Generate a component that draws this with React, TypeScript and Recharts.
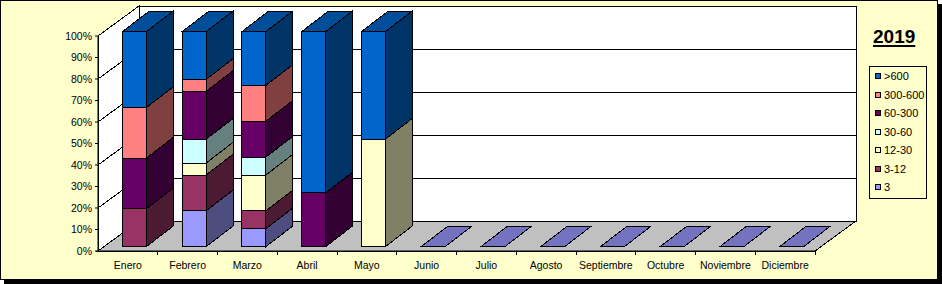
import { BarChart, Bar, XAxis, YAxis, CartesianGrid, Legend } from "recharts";

const months = [
  "Enero", "Febrero", "Marzo", "Abril", "Mayo", "Junio",
  "Julio", "Agosto", "Septiembre", "Octubre", "Noviembre", "Diciembre",
];

// counts per month, stacked bottom -> top
const s3 = [0, 3, 1, 0, 0, 0, 0, 0, 0, 0, 0, 0];
const s3to12 = [3, 3, 1, 0, 0, 0, 0, 0, 0, 0, 0, 0];
const s12to30 = [0, 1, 2, 0, 1, 0, 0, 0, 0, 0, 0, 0];
const s30to60 = [0, 2, 1, 0, 0, 0, 0, 0, 0, 0, 0, 0];
const s60to300 = [4, 4, 2, 1, 0, 0, 0, 0, 0, 0, 0, 0];
const s300to600 = [4, 1, 2, 0, 0, 0, 0, 0, 0, 0, 0, 0];
const s600 = [6, 4, 3, 3, 1, 0, 0, 0, 0, 0, 0, 0];

const keys = ["3", "3-12", "12-30", "30-60", "60-300", "300-600", ">600"];
const values = [s3, s3to12, s12to30, s30to60, s60to300, s300to600, s600];
const colors = ["#9999FF", "#993366", "#FFFFCC", "#CCFFFF", "#660066", "#FF8080", "#0066CC"];

const yTicks = [0, 0.1, 0.2, 0.3, 0.4, 0.5, 0.6, 0.7, 0.8, 0.9, 1];

const data = months.map((mes, i) => {
  const row: any = { mes };
  keys.forEach((k, j) => (row[k] = values[j][i]));
  return row;
});

// layout
const W = 942;
const H = 284;
const PLOT_X = 98;
const PLOT_Y = 36;
const PLOT_W = 717;
const PLOT_H = 215;
const WALL_DX = 41;
const WALL_DY = -30;
const OX = 6.3;
const OY = -4.3;
const DX = 27;
const DY = -20.7;
const FONT = "'Liberation Sans', Arial, sans-serif";

function shade(hex: string, k: number) {
  const n = parseInt(hex.slice(1), 16);
  const r = Math.round(((n >> 16) & 255) * k);
  const g = Math.round(((n >> 8) & 255) * k);
  const b = Math.round((n & 255) * k);
  return `rgb(${r},${g},${b})`;
}

const pts = (arr: number[][]) => arr.map((p) => p.join(",")).join(" ");

const makeShape = (idx: number) => (p: any) => {
  const { x, y, width, height, payload } = p;
  const color = colors[idx];
  const total = keys.reduce((s, k) => s + (payload[k] || 0), 0);
  const fx = x + OX;
  const fy = y + OY;
  const w = width;
  if (!(height > 0)) {
    // empty month: Excel still draws the flat lid of the first series
    if (total === 0 && idx === 0) {
      return (
        <polygon
          points={pts([[fx, fy], [fx + DX, fy + DY], [fx + w + DX, fy + DY], [fx + w, fy]])}
          fill={shade(color, 0.75)}
          stroke="#000"
          shapeRendering="crispEdges"
        />
      );
    }
    return <g />;
  }
  const isTop = !keys.slice(idx + 1).some((k) => payload[k] > 0);
  const h = height;
  return (
    <g shapeRendering="crispEdges" stroke="#000" strokeWidth={1}>
      <rect x={fx} y={fy} width={w} height={h} fill={color} />
      <polygon
        points={pts([[fx + w, fy], [fx + w + DX, fy + DY], [fx + w + DX, fy + h + DY], [fx + w, fy + h]])}
        fill={shade(color, 0.5)}
      />
      {isTop && (
        <polygon
          points={pts([[fx, fy], [fx + DX, fy + DY], [fx + w + DX, fy + DY], [fx + w, fy]])}
          fill={shade(color, 0.75)}
        />
      )}
    </g>
  );
};

const shapes = keys.map((_, i) => makeShape(i));

function Walls() {
  const x0 = PLOT_X;
  const y0 = PLOT_Y;
  const x1 = PLOT_X + PLOT_W;
  const y1 = PLOT_Y + PLOT_H;
  return (
    <g shapeRendering="crispEdges" stroke="#000">
      <polygon
        points={pts([[x0, y0], [x0 + WALL_DX, y0 + WALL_DY], [x0 + WALL_DX, y1 + WALL_DY], [x0, y1]])}
        fill="#fff"
      />
      <rect x={x0 + WALL_DX} y={y0 + WALL_DY} width={PLOT_W} height={PLOT_H} fill="#fff" />
      <polygon
        points={pts([[x0, y1], [x0 + WALL_DX, y1 + WALL_DY], [x1 + WALL_DX, y1 + WALL_DY], [x1, y1]])}
        fill="#C0C0C0"
      />
    </g>
  );
}

const gridLine = (p: any) => {
  const { x1, y1, x2, index } = p;
  return (
    <g key={p.key ?? `g-${index}`}>
      {index === 0 && <Walls />}
      <g stroke="#000" shapeRendering="crispEdges">
        <line x1={x1} y1={y1} x2={x1 + WALL_DX} y2={y1 + WALL_DY} />
        <line x1={x1 + WALL_DX} y1={y1 + WALL_DY} x2={x2 + WALL_DX} y2={y1 + WALL_DY} />
      </g>
    </g>
  );
};

const XTick = (p: any) => {
  const { x, payload } = p;
  const band = PLOT_W / months.length;
  const base = PLOT_Y + PLOT_H;
  return (
    <g>
      <line x1={x + band / 2} y1={base} x2={x + band / 2} y2={base + 4} stroke="#000" shapeRendering="crispEdges" />
      <text x={x} y={base + 18} textAnchor="middle" fontSize={10.5} fontFamily={FONT} fill="#000">
        {payload.value}
      </text>
    </g>
  );
};

const renderLegend = (props: any) => {
  const items = [...(props.payload || [])].sort(
    (a: any, b: any) => keys.indexOf(b.value) - keys.indexOf(a.value)
  );
  return (
    <div
      style={{
        width: 58,
        height: 133,
        boxSizing: "border-box",
        border: "1px solid #000",
        fontFamily: FONT,
        fontSize: 11,
        color: "#000",
      }}
    >
      {items.map((it: any) => (
        <div key={it.value} style={{ height: 18.5, display: "flex", alignItems: "center", paddingLeft: 5 }}>
          <span
            style={{
              width: 6,
              height: 6,
              boxSizing: "border-box",
              border: "1px solid #000",
              background: it.color,
              marginRight: 3,
              display: "inline-block",
            }}
          />
          <span>{it.value}</span>
        </div>
      ))}
    </div>
  );
};

export default function App() {
  return (
    <div style={{ position: "relative", width: W, height: H }}>
      <style>{"body{margin:0}"}</style>
      <div
        style={{
          position: "absolute",
          left: 0,
          top: 0,
          width: 938,
          height: 280,
          boxSizing: "border-box",
          border: "1px solid #000",
          background: "#FFFFCC",
          boxShadow: "4px 4px 0 #000",
        }}
      />
      <div style={{ position: "absolute", left: 0, top: 0 }}>
        <BarChart
          width={W}
          height={H}
          data={data}
          stackOffset="expand"
          margin={{ top: PLOT_Y, right: W - PLOT_X - PLOT_W, bottom: 3, left: 38 }}
        >
          <CartesianGrid vertical={false} horizontal={gridLine} stroke="#000" />
          <XAxis
            dataKey="mes"
            height={30}
            interval={0}
            tickLine={false}
            stroke="#000"
            tick={<XTick />}
          />
          <YAxis
            type="number"
            domain={[0, 1]}
            ticks={yTicks}
            width={60}
            tickSize={3}
            tickMargin={3}
            stroke="#000"
            tickFormatter={(v: number) => `${Math.round(v * 100)}%`}
            tick={{ fill: "#000", fontSize: 10.5, fontFamily: FONT }}
          />
          {keys.map((k, i) => (
            <Bar
              key={k}
              dataKey={k}
              name={k}
              stackId="a"
              barSize={24}
              fill={colors[i]}
              isAnimationActive={false}
              shape={shapes[i]}
            />
          ))}
          <Legend
            layout="vertical"
            align="center"
            verticalAlign="middle"
            content={renderLegend}
            wrapperStyle={{ left: 869, top: 66, width: 58 }}
          />
        </BarChart>
      </div>
      <div
        style={{
          position: "absolute",
          left: 873,
          top: 27,
          fontFamily: FONT,
          fontWeight: "bold",
          fontSize: 19,
          lineHeight: "19px",
          textDecoration: "underline",
          textDecorationThickness: "2px",
          textUnderlineOffset: "2px",
          color: "#000",
        }}
      >
        2019
      </div>
    </div>
  );
}
